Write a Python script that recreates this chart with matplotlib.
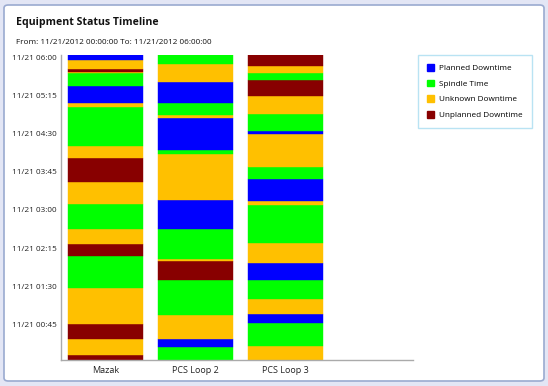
import numpy as np
import matplotlib
matplotlib.use("Agg")
import matplotlib.pyplot as plt
from matplotlib.patches import Patch, FancyBboxPatch

plt.rcParams["font.family"] = ["Open Sans", "DejaVu Sans"]

# status codes: P planned, S spindle, K unknown, U unplanned
status_names = {"P": "Planned Downtime", "S": "Spindle Time",
                "K": "Unknown Downtime", "U": "Unplanned Downtime"}
status_colors = {"P": "#0000ff", "S": "#00ff00", "K": "#ffc000", "U": "#880000"}

machines = ["Mazak", "PCS Loop 2", "PCS Loop 3"]

# segments listed from 00:00 upwards, durations in minutes
mazak_status = ["U", "K", "U", "K", "S", "U", "K", "S", "K", "U",
                "K", "S", "K", "P", "S", "K", "U", "K", "P"]
mazak_minutes = [5.5, 18.9, 18, 42.1, 38.1, 13.8, 17.7, 29.9, 26.3, 27.6,
                 14.5, 45.7, 4.7, 20.8, 14.6, 1.5, 3.2, 11, 6.1]

loop2_status = ["S", "P", "K", "S", "U", "K", "S", "P", "K", "S",
                "P", "K", "S", "P", "K", "S"]
loop2_minutes = [15.7, 9.1, 28.3, 41.3, 22.4, 2, 35.4, 34.6, 53.9, 5.1,
                 37.4, 3.9, 13.8, 24.8, 21.6, 10.7]

loop3_status = ["K", "S", "P", "K", "S", "P", "K", "S", "K", "P",
                "S", "K", "P", "S", "K", "U", "S", "K", "U"]
loop3_minutes = [16.9, 26.4, 11, 17.3, 22.8, 20.4, 22.9, 45.2, 5.1, 25.3,
                 14.2, 39.3, 3.5, 20.1, 21.2, 18.9, 8.6, 7.9, 13]

tick_minutes = [45, 90, 135, 180, 225, 270, 315, 360]
tick_labels = ["11/21 00:45", "11/21 01:30", "11/21 02:15", "11/21 03:00",
               "11/21 03:45", "11/21 04:30", "11/21 05:15", "11/21 06:00"]

fig = plt.figure(figsize=(5.48, 3.86), dpi=100)
fig.patch.set_facecolor("#e3e6f5")
frame = FancyBboxPatch((4 / 548, 5 / 386), 540 / 548, 376 / 386,
                       boxstyle="round,pad=0,rounding_size=0.008",
                       transform=fig.transFigure, facecolor="white",
                       edgecolor="#9aaad0", linewidth=1.2, zorder=-1)
fig.patches.append(frame)

ax = fig.add_axes([61 / 548, 26 / 386, 352 / 548, 305 / 386])
ax.set_facecolor("none")

all_bars = [(mazak_status, mazak_minutes), (loop2_status, loop2_minutes),
            (loop3_status, loop3_minutes)]
for i, (codes, mins) in enumerate(all_bars):
    mins = np.array(mins, dtype=float)
    bottoms = np.concatenate([[0], np.cumsum(mins)[:-1]])
    for c, h, b in zip(codes, mins, bottoms):
        ax.bar(i, h, bottom=b, width=0.835, color=status_colors[c],
               edgecolor=status_colors[c], linewidth=0.3)

ax.set_xlim(-0.494, 3.42)
ax.set_ylim(0, 360)
ax.set_xticks(range(len(machines)))
ax.set_xticklabels(machines, fontsize=6.5, color="#222222")
ax.set_yticks(tick_minutes)
ax.set_yticklabels(tick_labels, fontsize=5.9, color="#222222", va="top")
ax.tick_params(axis="x", length=0, pad=4)
ax.tick_params(axis="y", length=0, pad=3)
for side in ["top", "right"]:
    ax.spines[side].set_visible(False)
for side in ["left", "bottom"]:
    ax.spines[side].set_color("#aaaaaa")
    ax.spines[side].set_linewidth(1)

fig.text(16 / 548, 1 - 22 / 386, "Equipment Status Timeline", fontsize=7.6,
         fontweight="bold", va="center", ha="left", color="#111111")
fig.text(16 / 548, 1 - 42 / 386,
         "From: 11/21/2012 00:00:00 To: 11/21/2012 06:00:00", fontsize=5.9,
         va="center", ha="left", color="#111111")

handles = [Patch(facecolor=status_colors[k], edgecolor=status_colors[k],
                 label=status_names[k]) for k in ["P", "S", "K", "U"]]
leg = fig.legend(handles=handles, loc="upper left",
                 bbox_to_anchor=(418 / 548, 1 - 55 / 386), fontsize=5.9,
                 frameon=True, fancybox=False, handlelength=0.9,
                 handleheight=0.9, handletextpad=0.6, labelspacing=0.9,
                 borderpad=1.1, borderaxespad=0)
leg.get_frame().set_edgecolor("#a8dcf0")
leg.get_frame().set_linewidth(1)

fig.savefig("out.png", dpi=100, facecolor=fig.get_facecolor())
